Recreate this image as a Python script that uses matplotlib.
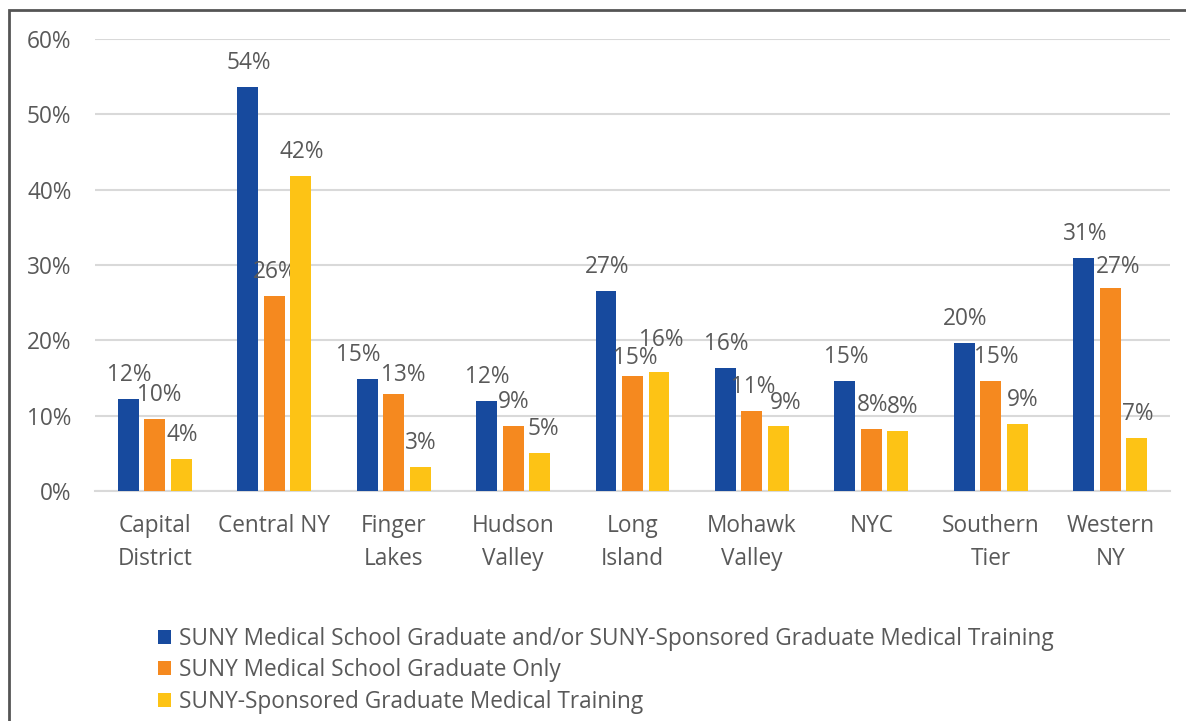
import matplotlib.pyplot as plt
import numpy as np
from matplotlib.patches import Rectangle

plt.rcParams['font.family'] = ['Open Sans', 'DejaVu Sans']

regions = ['Capital\nDistrict', 'Central NY', 'Finger\nLakes', 'Hudson\nValley', 'Long\nIsland',
           'Mohawk\nValley', 'NYC', 'Southern\nTier', 'Western\nNY']
grad_or_training = [0.122, 0.536, 0.149, 0.120, 0.266, 0.163, 0.146, 0.196, 0.309]
grad_only = [0.096, 0.259, 0.129, 0.086, 0.152, 0.106, 0.082, 0.146, 0.270]
training_only = [0.042, 0.418, 0.032, 0.050, 0.158, 0.086, 0.080, 0.089, 0.071]
series_names = ['SUNY Medical School Graduate and/or SUNY-Sponsored Graduate Medical Training',
                'SUNY Medical School Graduate Only',
                'SUNY-Sponsored Graduate Medical Training']
colors = ['#174A9E', '#F5891F', '#FDC315']
text_col = '#595959'
fs = 16.3

# label nudges (pixels) where excel shifted labels to avoid collisions
nudge = {(0, 2): (-9, 0), (1, 2): (10, -5), (1, 4): (3, -6), (2, 4): (2, 8),
         (1, 7): (5, 0), (1, 8): (8, -3), (1, 0): (4, 0), (2, 6): (5, 0), (2, 7): (5, 0),
         (2, 5): (7, -1), (2, 3): (4, 0), (1, 5): (1, 0)}

fig = plt.figure(figsize=(11.86, 7.21), dpi=100)
ax = fig.add_axes([0.0801, 0.319, 0.9064, 0.627])

x = np.arange(len(regions))
width = 0.175
step = 0.222
all_vals = [grad_or_training, grad_only, training_only]
for i, vals in enumerate(all_vals):
    bars = ax.bar(x + (i - 1) * step, vals, width, color=colors[i], label=series_names[i], zorder=3)
    for j, (rect, v) in enumerate(zip(bars, vals)):
        dx, dy = nudge.get((i, j), (1, 0))
        ax.annotate(f'{v*100:.0f}%', (rect.get_x() + rect.get_width() / 2, v),
                    xytext=(dx, 24 + dy), textcoords='offset pixels', ha='center', va='center',
                    fontsize=fs, color=text_col)

ax.set_xlim(-0.5, len(regions) - 0.5)
ax.set_ylim(0, 0.6)
ax.set_yticks(np.arange(0, 0.61, 0.1))
ax.set_yticklabels([f'{int(t*100)}%' for t in np.arange(0, 0.61, 0.1)])
ax.set_xticks(x)
ax.set_xticklabels(regions, linespacing=1.5)
ax.tick_params(axis='both', length=0, labelsize=fs, labelcolor=text_col)
ax.tick_params(axis='y', pad=17)
ax.tick_params(axis='x', pad=16.5)
ax.grid(axis='y', color='#d9d9d9', linewidth=1.5, zorder=0)
for s in ['top', 'right', 'left']:
    ax.spines[s].set_visible(False)
ax.spines['bottom'].set_color('#d9d9d9')
ax.spines['bottom'].set_linewidth(1.5)

leg = fig.legend(loc='upper left', bbox_to_anchor=(0.133, 0.131), frameon=False, fontsize=fs,
                 handlelength=0.57, handleheight=0.57, handletextpad=0.35, labelspacing=0.34,
                 borderaxespad=0, borderpad=0)
for t in leg.get_texts():
    t.set_color(text_col)

# outer chart frame
fig.patches.append(Rectangle((9 / 1186, -0.2), 1.2, 1.2 - 10 / 721, transform=fig.transFigure,
                             fill=False, edgecolor='#555555', linewidth=2))

fig.savefig('out.png', dpi=100)
